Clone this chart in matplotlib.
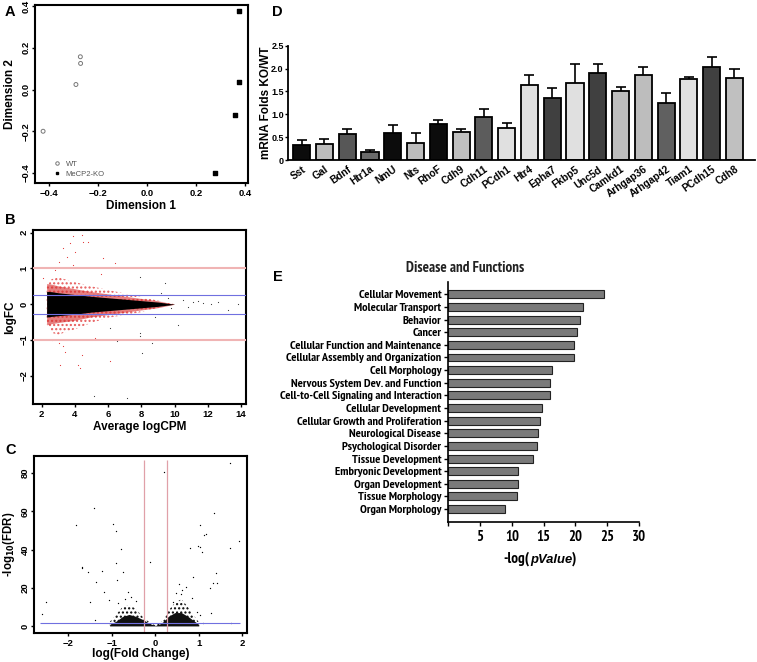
import matplotlib
matplotlib.use("Agg")
import matplotlib.pyplot as plt
import matplotlib.font_manager as fm
from matplotlib.lines import Line2D
import numpy as np

plt.rcParams['font.family'] = ['Liberation Sans', 'DejaVu Sans']

# narrow bold faces for panel E if installed, else plain bold a bit smaller
bold_nar = [f.fname for f in fm.fontManager.ttflist
            if 'Narrow' in f.name and f.weight in ('bold', 700) and f.style == 'normal']
ital_nar = [f.fname for f in fm.fontManager.ttflist
            if 'Narrow' in f.name and f.weight in ('bold', 700) and f.style == 'italic']


def efont(size, italic=False):
    if italic and ital_nar:
        return fm.FontProperties(fname=ital_nar[0], size=size)
    if bold_nar and not italic:
        return fm.FontProperties(fname=bold_nar[0], size=size)
    return fm.FontProperties(family=['Liberation Sans', 'DejaVu Sans'], weight='bold',
                             style='italic' if italic else 'normal', size=size * 0.85)


W, H = 757, 662

# ---------- A: MDS plot ----------
wt_x = [-0.424, -0.272, -0.271, -0.290]
wt_y = [-0.200, 0.157, 0.125, 0.024]
ko_x = [0.377, 0.374, 0.359, 0.278]
ko_y = [0.378, 0.038, -0.124, -0.400]

# ---------- B: MA plot (dense cloud read as envelopes + sparse points) ----------
ma_x = [2.3, 2.6, 3.0, 4.0, 5.0, 6.0, 7.0, 8.0, 9.0, 10.0]
ma_core_hi = [0.36, 0.35, 0.32, 0.27, 0.22, 0.18, 0.14, 0.10, 0.06, 0.0]
ma_core_lo = [-0.36, -0.34, -0.32, -0.28, -0.22, -0.18, -0.14, -0.10, -0.06, 0.0]
ma_red_hi = [0.50, 0.70, 0.75, 0.62, 0.50, 0.40, 0.30, 0.20, 0.10, 0.0]
ma_red_lo = [-0.55, -0.80, -0.85, -0.70, -0.52, -0.38, -0.30, -0.22, -0.10, 0.0]
ma_red_pts_x = [3.7, 4.4, 3.9, 3.06, 4.8, 3.3, 3.5, 4.47, 3.9, 2.1, 3.1, 4.2, 4.45,
                3.3, 3.06, 4.3, 6.1, 5.71, 6.42, 2.8, 3.4, 5.2, 2.6, 4.0, 5.6]
ma_red_pts_y = [1.72, 1.94, 1.92, 1.19, 1.75, 1.56, 1.33, 1.73, 1.10, 0.73, -1.70, -1.70,
                -1.42, -1.18, -1.09, -1.79, -1.60, 1.30, 1.15, 0.95, -1.35, -0.95, -1.0, 1.45, 0.85]
ma_blk_pts_x = [7.92, 9.43, 8.02, 7.92, 6.52, 10.2, 12.2, 13.8, 13.2, 11.1, 11.7, 6.1,
                7.9, 8.66, 5.15, 7.15, 10.5, 9.8, 10.8, 11.4, 12.6, 9.2, 8.8, 9.6]
ma_blk_pts_y = [0.77, 0.59, -1.37, -0.81, -1.03, -0.58, 0.0, 0.0, -0.16, 0.07, 0.03, -0.67,
                -0.90, -1.09, -2.58, -2.63, 0.12, -0.10, -0.08, 0.10, 0.05, 0.30, -0.35, 0.18]

# ---------- C: volcano plot ----------
vl_x = [-1.05, -0.9, -0.75, -0.6, -0.45, -0.3, -0.2, -0.1, 0.0]
vl_hi = [2, 6, 10, 11, 9, 5, 3, 1.5, 0.3]
vl_core = [0.8, 2.5, 5, 6, 5, 3.5, 2.2, 1.0, 0.2]
vr_x = [0.0, 0.1, 0.2, 0.3, 0.45, 0.6, 0.75, 0.9, 1.0]
vr_hi = [0.3, 1.5, 3.5, 8, 12, 14, 10, 5, 2]
vr_core = [0.2, 1.0, 2.5, 5, 7, 7, 5, 2.5, 0.8]
vo_x = [1.73, 0.21, -1.41, -1.82, -0.97, -0.90, 1.35, 1.04, 1.16, 1.92, 1.73, 0.81, 0.98,
        1.08, -0.80, -0.13, -0.91, -1.69, -1.23, -1.55, 1.39, 0.87, 1.32, -2.51, -2.60,
        -1.36, -1.51, -1.39, -1.17, -1.07, -0.87, -0.74, 1.13, 1.03, 1.41, 1.26, 1.29,
        0.97, 1.04, 1.75, 1.10, -1.68, 0.55, 0.62, -0.62, -0.55, 0.70, 0.48, -0.7, -0.45,
        -0.85, 0.85, 0.6, 0.4]
vo_y = [85.4, 80.4, 62.0, 52.7, 53.2, 49.7, 58.9, 52.8, 48.0, 44.4, 40.6, 41.0, 41.8,
        38.5, 40.1, 33.6, 33.1, 30.2, 28.9, 28.4, 27.5, 25.8, 22.3, 12.7, 6.3,
        23.2, 12.7, 3.1, 17.9, 13.6, 24.0, 28.4, 47.6, 41.5, 22.6, 19.7, 6.6,
        7.5, 5.8, 1.7, 1.7, 31.0, 22.0, 19.0, 18.0, 15.0, 20.5, 17.5, 14.0, 13.0,
        12.0, 14.5, 16.5, 12.5]

# ---------- D: qPCR bars ----------
genes = ['Sst', 'Gal', 'Bdnf', 'Htr1a', 'NmU', 'Nts', 'RhoF', 'Cdh9', 'Cdh11', 'PCdh1',
         'Htr4', 'Epha7', 'Fkbp5', 'Unc5d', 'Camkd1', 'Arhgap36', 'Arhgap42', 'Tiam1',
         'PCdh15', 'Cdh8']
fold = [0.33, 0.34, 0.56, 0.175, 0.60, 0.38, 0.78, 0.62, 0.95, 0.71,
        1.64, 1.36, 1.68, 1.90, 1.50, 1.87, 1.25, 1.78, 2.03, 1.79]
fold_err = [0.11, 0.13, 0.12, 0.035, 0.17, 0.21, 0.10, 0.06, 0.17, 0.11,
            0.23, 0.22, 0.42, 0.21, 0.10, 0.17, 0.22, 0.04, 0.22, 0.21]
bar_cols = ['#0c0c0c', '#bdbdbd', '#575757', '#6a6a6a', '#0c0c0c', '#bdbdbd', '#0c0c0c',
            '#c0c0c0', '#5c5c5c', '#e0e0e0', '#e0e0e0', '#404040', '#e0e0e0', '#404040',
            '#bdbdbd', '#bdbdbd', '#606060', '#e0e0e0', '#404040', '#c0c0c0']

# ---------- E: IPA categories ----------
functions = ['Cellular Movement', 'Molecular Transport', 'Behavior', 'Cancer',
             'Cellular Function and Maintenance', 'Cellular Assembly and Organization',
             'Cell Morphology', 'Nervous System Dev. and Function',
             'Cell-to-Cell Signaling and Interaction', 'Cellular Development',
             'Cellular Growth and Proliferation', 'Neurological Disease',
             'Psychological Disorder', 'Tissue Development', 'Embryonic Development',
             'Organ Development', 'Tissue Morphology', 'Organ Morphology']
neglogp = [24.5, 21.2, 20.7, 20.3, 19.7, 19.7, 16.25, 16.0, 16.0, 14.7, 14.4, 14.15,
           13.9, 13.4, 11.0, 10.9, 10.75, 8.9]


def rect(l, t, r, b):
    return [l / W, 1 - b / H, (r - l) / W, (b - t) / H]


def r_style(ax, ylab_x):
    for s in ax.spines.values():
        s.set_linewidth(1.5)
    ax.tick_params(length=2.5, width=1, labelsize=6.8)
    ax.tick_params(axis='y', pad=0.8)
    ax.tick_params(axis='x', pad=1.5)
    for lab in ax.get_xticklabels() + ax.get_yticklabels():
        lab.set_fontweight('bold')
    for lab in ax.get_yticklabels():
        lab.set_rotation(90)
        lab.set_va('center')
    ax.yaxis.set_label_coords(ylab_x, 0.5)


fig = plt.figure(figsize=(W / 100, H / 100), dpi=100)

# A
ax = fig.add_axes(rect(35, 5, 248, 183))
ax.scatter(wt_x, wt_y, s=8, facecolors='none', edgecolors='#777777', linewidths=0.7)
ax.scatter(ko_x, ko_y, s=6, marker='s', color='black')
ax.set_xlim(-0.457, 0.412)
ax.set_ylim(-0.448, 0.405)
ax.set_xticks([-0.4, -0.2, 0.0, 0.2, 0.4])
ax.set_yticks([-0.4, -0.2, 0.0, 0.2, 0.4])
ax.set_xlabel('Dimension 1', fontsize=8.5, fontweight='bold', labelpad=2)
ax.set_ylabel('Dimension 2', fontsize=8.5, fontweight='bold')
r_style(ax, -0.09)
handles = [Line2D([], [], ls='', marker='o', mfc='none', mec='#777777', ms=2.5, mew=0.7),
           Line2D([], [], ls='', marker='s', color='black', ms=2)]
ax.legend(handles, ['WT', 'MeCP2-KO'], loc='lower left', frameon=False, fontsize=5.5,
          handletextpad=0.2, borderaxespad=0.3, labelspacing=0.3, labelcolor='#555555',
          bbox_to_anchor=(0.04, 0.0))

# B
ax = fig.add_axes(rect(33, 230, 246, 404))
ax.fill_between(ma_x, ma_red_lo, ma_red_hi, facecolor='none', edgecolor='#e65a5a',
                hatch='....', linewidth=0)
ax.fill_between(ma_x, [v * 1.6 for v in ma_core_lo], [v * 1.6 for v in ma_core_hi],
                color='#d62a2a', alpha=0.6, linewidth=0)
ax.fill_between(ma_x, ma_core_lo, ma_core_hi, color='black', linewidth=0)
ax.scatter(ma_red_pts_x, ma_red_pts_y, s=0.7, color='#e03030', linewidths=0)
ax.scatter(ma_blk_pts_x, ma_blk_pts_y, s=0.7, color='#333333', linewidths=0)
for yy in (1, -1):
    ax.axhline(yy, color='#f0b4b4', lw=1.5, zorder=3)
for yy in (0.263, -0.263):
    ax.axhline(yy, color='#7070e0', lw=0.8, zorder=3)
ax.set_xlim(1.48, 14.3)
ax.set_ylim(-2.79, 2.075)
ax.set_xticks([2, 4, 6, 8, 10, 12, 14])
ax.set_yticks([-2, -1, 0, 1, 2])
ax.set_xlabel('Average logCPM', fontsize=8.5, fontweight='bold', labelpad=2)
ax.set_ylabel('logFC', fontsize=8.5, fontweight='bold')
r_style(ax, -0.08)

# C
ax = fig.add_axes(rect(34, 456, 247, 633))
ax.fill_between(vl_x, 0, vl_hi, facecolor='none', edgecolor='black', hatch='....', linewidth=0)
ax.fill_between(vr_x, 0, vr_hi, facecolor='none', edgecolor='black', hatch='....', linewidth=0)
ax.fill_between(vl_x, 0, vl_core, color='#111111', linewidth=0)
ax.fill_between(vr_x, 0, vr_core, color='#111111', linewidth=0)
ax.scatter(vo_x, vo_y, s=0.9, color='black', linewidths=0)
ax.vlines([-0.263, 0.263], -3.7, 87, color='#e0a0a8', lw=0.9)
ax.hlines(1.3, -2.65, 1.95, color='#7070e0', lw=0.8, zorder=3)
ax.set_xlim(-2.79, 2.11)
ax.set_ylim(-3.7, 89)
ax.set_xticks([-2, -1, 0, 1, 2])
ax.set_yticks([0, 20, 40, 60, 80])
ax.set_xlabel('log(Fold Change)', fontsize=8.5, fontweight='bold', labelpad=0.5)
ax.set_ylabel(r'-log$_{\mathbf{10}}$(FDR)', fontsize=8.3, fontweight='bold')
r_style(ax, -0.08)

# D
ax = fig.add_axes(rect(288, 45.7, 755, 160))
xs = np.arange(len(genes))
ax.bar(xs, fold, width=0.75, color=bar_cols, edgecolor='black', linewidth=1.3, zorder=2)
tops = [f + e for f, e in zip(fold, fold_err)]
ax.vlines(xs, fold, tops, color='black', lw=1.2, zorder=1)
ax.hlines(tops, xs - 0.22, xs + 0.22, color='black', lw=1.2, zorder=1)
ax.set_xlim(-0.6, 19.9)
ax.set_ylim(0, 2.5)
ax.set_yticks([0, 0.5, 1.0, 1.5, 2.0, 2.5])
ax.set_yticklabels(['0', '0.5', '1.0', '1.5', '2.0', '2.5'])
ax.set_xticks(xs)
ax.set_xticklabels(genes, rotation=35, ha='right', rotation_mode='anchor')
ax.spines['top'].set_visible(False)
ax.spines['right'].set_visible(False)
ax.spines['left'].set_linewidth(1.3)
ax.spines['bottom'].set_linewidth(1.3)
ax.tick_params(axis='x', length=0, pad=3, labelsize=7.3)
ax.tick_params(axis='y', length=2.5, width=1, labelsize=6.5, pad=0.6)
for lab in ax.get_xticklabels() + ax.get_yticklabels():
    lab.set_fontweight('bold')
ax.set_ylabel('mRNA Folds KO/WT', fontsize=8.5, fontweight='bold')
ax.yaxis.set_label_coords(-0.034, 0.5)

# E
ax = fig.add_axes(rect(448.3, 281.7, 639, 521.7))
ys = np.arange(len(functions))
ax.barh(ys, neglogp, height=0.63, color='#7a7a7a', edgecolor='#222222', linewidth=0.8)
ax.set_ylim(18.0, -1.0)
ax.set_xlim(0, 30)
ax.set_yticks(ys)
ax.set_yticklabels(functions, fontproperties=efont(8.9))
ax.set_xticks([0, 5, 10, 15, 20, 25, 30])
ax.set_xticklabels(['', '5', '10', '15', '20', '25', '30'], fontproperties=efont(10.5))
ax.spines['top'].set_visible(False)
ax.spines['right'].set_visible(False)
ax.spines['left'].set_linewidth(1.2)
ax.spines['bottom'].set_linewidth(1.2)
ax.tick_params(length=3, width=1, pad=2)
ax.tick_params(axis='x', pad=3)
# x label "-log(pValue)" with italic pValue, built from chained text pieces
mid = ax.text((551 - 448.3) / 190.7, 1 - (560 - 281.7) / 240.0, 'pValue',
              transform=ax.transAxes, ha='center', va='center',
              fontproperties=efont(11, italic=True))
ax.annotate('-log(', xy=(0, 0), xycoords=mid, ha='right', va='bottom',
            fontproperties=efont(11))
ax.annotate(')', xy=(1, 0), xycoords=mid, ha='left', va='bottom',
            fontproperties=efont(11))
fig.text(465 / W, 1 - 268 / H, 'Disease and Functions', fontproperties=efont(10.8),
         ha='center', va='center', color='#222222')

# panel letters
for letter, px, py in [('A', 5, 12), ('B', 5, 220), ('C', 5, 450), ('D', 272, 12), ('E', 273, 277)]:
    fig.text(px / W, 1 - py / H, letter, fontsize=10.5, fontweight='bold', va='center')

fig.savefig('out.png', dpi=100)
